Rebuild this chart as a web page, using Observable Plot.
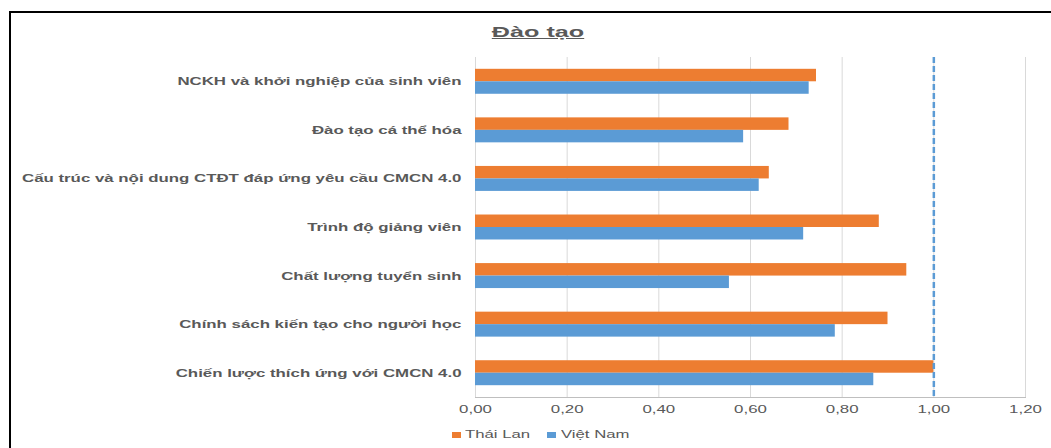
<!DOCTYPE html>
<html>
<head>
<meta charset="utf-8">
<script src="https://cdn.jsdelivr.net/npm/d3@7"></script>
<script src="https://cdn.jsdelivr.net/npm/@observablehq/plot@0.6"></script>
<style>
  html, body { margin: 0; padding: 0; background: #fff; }
  #chart { position: relative; width: 1051px; height: 448px; overflow: hidden;
           font-family: "Liberation Sans", Arial, sans-serif; color: #595959; }
  #chart svg { position: absolute; left: 0; top: 0; }
  .frame { position: absolute; left: 9px; top: 11px; width: 1100px; height: 500px;
           border-left: 2px solid #000; border-top: 2px solid #000; }
  .title { position: absolute; left: 538px; top: 25px; font-size: 14px; line-height: 14px;
           font-weight: bold; text-decoration: underline; white-space: nowrap;
           transform: translateX(-50%) scaleX(1.8); }
  .key { position: absolute; width: 9px; height: 6px; }
  .keytext { position: absolute; font-size: 11px; line-height: 11px; white-space: nowrap;
             transform-origin: left center; transform: scaleX(1.52); }
</style>
</head>
<body>
<div id="chart">
  <div class="frame"></div>
</div>
<script>
// Training criteria, listed top to bottom
const categories = [
  "NCKH và khởi nghiệp của sinh viên",
  "Đào tạo cá thể hóa",
  "Cấu trúc và nội dung CTĐT đáp ứng yêu cầu CMCN 4.0",
  "Trình độ giảng viên",
  "Chất lượng tuyển sinh",
  "Chính sách kiến tạo cho người học",
  "Chiến lược thích ứng với CMCN 4.0"
];
const seriesNames = ["Thái Lan", "Việt Nam"];
const thaiLan = [0.744, 0.684, 0.641, 0.881, 0.941, 0.900, 1.000];
const vietNam = [0.728, 0.585, 0.619, 0.716, 0.554, 0.785, 0.869];
const xTicks = [0, 0.2, 0.4, 0.6, 0.8, 1.0, 1.2];
const reference = [1.0];
const colors = {"Thái Lan": "#ed7d31", "Việt Nam": "#5b9bd5"};

const rows = [];
categories.forEach((c, i) => {
  rows.push({category: c, series: "Thái Lan", value: thaiLan[i]});
  rows.push({category: c, series: "Việt Nam", value: vietNam[i]});
});

const W = 1051, H = 448;
const mTop = 57, mBottom = 51, mLeft = 475, mRight = 26;
const padInner = 0.486, padOuter = 0.243;
const step = (H - mTop - mBottom) / (categories.length - padInner + 2 * padOuter);
const half = step * (1 - padInner) / 2;
const fmt = d => d.toFixed(2).replace(".", ",");

const chart = Plot.plot({
  width: W,
  height: H,
  marginTop: mTop,
  marginBottom: mBottom,
  marginLeft: mLeft,
  marginRight: mRight,
  style: {fontFamily: "'Liberation Sans', Arial, sans-serif", fontSize: "11px", color: "#595959", background: "transparent"},
  x: {domain: [0, 1.2]},
  y: {domain: categories, paddingInner: padInner, paddingOuter: padOuter, round: false},
  marks: [
    Plot.ruleX(xTicks, {stroke: "#d9d9d9", strokeWidth: 1}),
    Plot.barX(rows, {filter: d => d.series === "Thái Lan", y: "category", x: "value",
      fill: colors["Thái Lan"], insetTop: 0, insetBottom: half}),
    Plot.barX(rows, {filter: d => d.series === "Việt Nam", y: "category", x: "value",
      fill: colors["Việt Nam"], insetTop: half, insetBottom: 0}),
    Plot.frame({anchor: "bottom", stroke: "#bfbfbf"}),
    Plot.ruleX(reference, {stroke: "#5b9bd5", strokeWidth: 2.5, strokeDasharray: "6,3"}),
    Plot.axisX({ticks: xTicks, tickSize: 0, tickPadding: 8, tickFormat: fmt, label: null, fill: "#595959"}),
    Plot.axisY({tickSize: 0, tickPadding: 14, label: null, fontWeight: "bold", fill: "#595959"})
  ]
});

const root = document.getElementById("chart");
root.appendChild(chart);

// Wide lettering: stretch each axis label horizontally around its anchor
const stretch = 1.53;
chart.querySelectorAll("text").forEach(t => {
  const len = t.getComputedTextLength();
  if (len > 0) {
    t.setAttribute("textLength", (len * stretch).toFixed(1));
    t.setAttribute("lengthAdjust", "spacingAndGlyphs");
  }
});

// Title
const title = document.createElement("div");
title.className = "title";
title.textContent = "Đào tạo";
root.appendChild(title);

// Legend
const legendItems = [
  {name: seriesNames[0], keyX: 452, textX: 465},
  {name: seriesNames[1], keyX: 547, textX: 561}
];
legendItems.forEach(item => {
  const k = document.createElement("div");
  k.className = "key";
  k.style.left = item.keyX + "px";
  k.style.top = "432px";
  k.style.background = colors[item.name];
  root.appendChild(k);
  const s = document.createElement("div");
  s.className = "keytext";
  s.style.left = item.textX + "px";
  s.style.top = "429px";
  s.textContent = item.name;
  root.appendChild(s);
});
</script>
</body>
</html>
